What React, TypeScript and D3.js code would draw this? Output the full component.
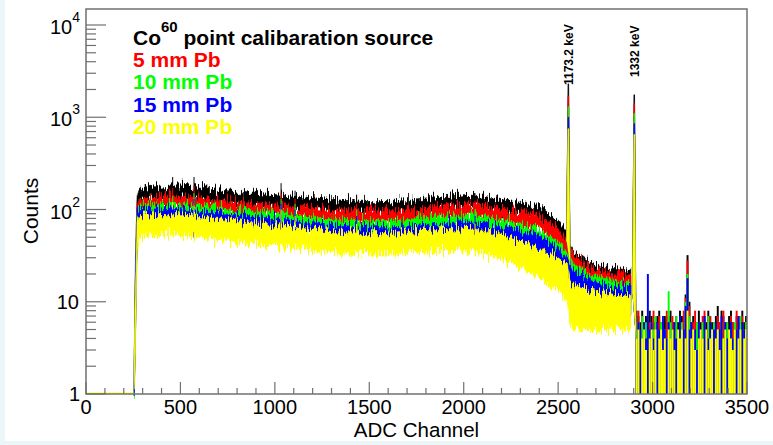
import React from "react";
import * as d3 from "d3";

const W = 773;
const H = 445;

// ---- axis tick values ----
const xMajorTicks = [0, 500, 1000, 1500, 2000, 2500, 3000, 3500];
const xMinorTicks = d3.range(0, 3501, 100);
const yDecades = [1, 10, 100, 1000, 10000];

// ---- series ----
const seriesNames = ["no Pb", "5 mm Pb", "10 mm Pb", "15 mm Pb", "20 mm Pb"];
const seriesColors = ["#000000", "#ff0000", "#00ff00", "#0000ff", "#ffff00"];
const legendTitle = "point calibaration source";

// continuum band knots (ADC channel)
const knots = [255, 262, 270, 280, 300, 350, 400, 450, 500, 600, 700, 800, 900, 1000, 1100, 1200, 1300, 1400, 1500, 1600, 1700, 1800, 1900, 2000, 2100, 2200, 2300, 2400, 2450, 2500, 2530, 2548, 2562, 2580, 2650, 2700, 2800, 2885];

// lower / upper edges of each noisy band (counts)
const blackLo = [1, 5, 60, 120, 125, 128, 130, 132, 130, 125, 118, 112, 108, 104, 98, 95, 92, 90, 88, 88, 90, 94, 100, 105, 102, 92, 85, 75, 62, 45, 38, 35, 22, 20, 16, 14, 13, 12];
const blackHi = [2, 30, 130, 170, 170, 175, 180, 185, 185, 175, 165, 155, 150, 145, 140, 135, 128, 125, 122, 122, 125, 130, 138, 145, 140, 128, 120, 110, 95, 75, 62, 55, 40, 36, 28, 25, 23, 22];
const redLo = [1, 5, 50, 95, 98, 100, 102, 103, 102, 98, 94, 89, 85, 82, 78, 75, 72, 71, 70, 70, 72, 75, 80, 84, 82, 74, 68, 60, 50, 37, 31, 28, 18, 16, 13, 12, 11, 10];
const redHi = [2, 25, 110, 130, 132, 135, 138, 140, 138, 133, 127, 121, 116, 112, 107, 103, 100, 98, 97, 97, 100, 104, 110, 117, 113, 102, 95, 86, 75, 60, 50, 45, 36, 32, 25, 22, 20, 19];
const greenLo = [1, 4, 45, 80, 82, 84, 85, 86, 85, 82, 78, 74, 70, 67, 63, 60, 58, 56, 55, 55, 57, 59, 62, 64, 62, 56, 50, 44, 37, 28, 24, 22, 15, 13, 11, 10, 9, 8];
const greenHi = [2, 22, 95, 110, 112, 114, 116, 117, 116, 112, 107, 101, 96, 92, 87, 83, 79, 77, 76, 76, 78, 81, 85, 88, 85, 77, 70, 62, 54, 44, 38, 35, 30, 27, 21, 19, 17, 16];
const blueLo = [1, 4, 40, 70, 72, 73, 74, 75, 74, 71, 68, 64, 60, 57, 54, 51, 49, 47, 46, 46, 47, 49, 51, 53, 51, 46, 41, 35, 30, 23, 20, 18, 13, 12, 10, 9, 8, 7];
const blueHi = [2, 20, 85, 100, 100, 101, 102, 103, 102, 98, 94, 89, 84, 80, 76, 72, 69, 66, 65, 65, 66, 69, 72, 74, 72, 65, 58, 51, 45, 37, 32, 29, 26, 23, 18, 16, 15, 14];
const yellowLo = [1, 3, 30, 50, 52, 53, 53, 54, 53, 50, 47, 45, 42, 40, 38, 36, 34, 33, 33, 33, 34, 35, 35, 35, 33, 29, 23, 18, 15, 13, 11, 10, 6, 5, 5, 5, 5, 5];
const yellowHi = [3, 15, 70, 85, 87, 88, 88, 89, 88, 84, 80, 76, 72, 69, 66, 62, 58, 56, 55, 55, 57, 59, 62, 63, 60, 54, 46, 39, 34, 30, 27, 25, 17, 16, 14, 13, 12, 12];

// photo peaks
const peakChannels = [2554, 2903];
const peakLabels = ["1173.2 keV", "1332 keV"];
const peakBaseLeft = [45, 12];
const peakBaseRight = [25, 4];
const blackPeaks = [2300, 1750];
const redPeaks = [1700, 1400];
const greenPeaks = [1300, 1100];
const bluePeaks = [1000, 850];
const yellowPeaks = [750, 650];

// narrow spikes in the continuum
const spikeChannels = [459, 572, 1033, 1107, 1433, 2060];
const spikeBottoms = [120, 50, 60, 70, 45, 45];
const blackSpikes = [225, 225, 193, 160, 145, 150];
const redSpikes = [170, 180, 150, 130, 115, 125];
const greenSpikes = [140, 150, 130, 115, 100, 100];
const blueSpikes = [120, 130, 115, 100, 85, 85];
const yellowSpikes = [100, 110, 100, 85, 70, 70];

// low-count tail above the 1332 keV peak, 10-channel bins from 2910
const tailStart = 2910;
const tailBin = 10;
const blackTail = [8, 7, 6, 8, 5, 7, 6, 8, 7, 5, 6, 7, 8, 6, 5, 7, 6, 7, 8, 5, 6, 7, 6, 8, 7, 5, 12, 32, 10, 6, 7, 5, 6, 8, 6, 5, 7, 6, 8, 7, 6, 5, 7, 9, 6, 8, 7, 5, 6, 7, 8, 6, 5, 7, 6, 7, 8, 6, 7];
const redTail = [6, 8, 5, 7, 6, 4, 7, 6, 5, 8, 6, 5, 7, 4, 6, 5, 8, 6, 5, 7, 4, 6, 5, 7, 6, 8, 11, 28, 9, 5, 6, 8, 5, 6, 4, 7, 8, 5, 6, 7, 5, 6, 4, 7, 6, 5, 8, 6, 4, 5, 7, 6, 5, 8, 6, 4, 7, 5, 6];
const greenTail = [5, 6, 4, 7, 3, 6, 5, 4, 6, 5, 7, 4, 5, 6, 3, 5, 4, 13, 6, 5, 3, 7, 4, 5, 6, 4, 10, 20, 7, 4, 5, 3, 6, 5, 4, 6, 5, 3, 7, 4, 5, 6, 4, 5, 3, 6, 4, 5, 6, 3, 5, 4, 6, 5, 3, 7, 4, 5, 6];
const blueTail = [4, 6, 5, 3, 6, 4, 20, 5, 6, 4, 3, 6, 5, 4, 7, 5, 4, 6, 3, 5, 6, 4, 5, 7, 4, 5, 9, 18, 5, 6, 4, 5, 3, 6, 5, 4, 7, 5, 4, 6, 3, 5, 6, 4, 5, 7, 3, 6, 4, 5, 6, 4, 3, 5, 7, 4, 6, 5, 4];
const yellowTail = [4, 5, 0, 4, 5, 3, 0, 4, 5, 3, 5, 0, 4, 5, 3, 4, 0, 5, 4, 5, 3, 0, 5, 4, 5, 0, 4, 8, 0, 4, 5, 3, 0, 4, 5, 4, 0, 5, 3, 4, 5, 0, 4, 5, 3, 0, 4, 5, 0, 5, 4, 3, 5, 0, 4, 5, 0, 4, 5];

const seriesLo = [blackLo, redLo, greenLo, blueLo, yellowLo];
const seriesHi = [blackHi, redHi, greenHi, blueHi, yellowHi];
const seriesPeaks = [blackPeaks, redPeaks, greenPeaks, bluePeaks, yellowPeaks];
const seriesSpikes = [blackSpikes, redSpikes, greenSpikes, blueSpikes, yellowSpikes];
const seriesTail = [blackTail, redTail, greenTail, blueTail, yellowTail];

const FONT = "'Liberation Sans', Arial, Helvetica, sans-serif";

const M = { left: 86, right: 747, top: 9, bottom: 394 };

export default function App() {
  const x = d3.scaleLinear().domain([0, 3500]).range([M.left, M.right]);
  const y = d3
    .scaleLog()
    .domain([1, Math.pow(10, (M.bottom - M.top) / 92.25)])
    .range([M.bottom, M.top]);

  const bandPath = (lo: number[], hi: number[]) =>
    d3
      .area<number>()
      .x((k) => x(k))
      .y0((_, i) => y(Math.max(1, lo[i])))
      .y1((_, i) => y(Math.max(1, hi[i])))(knots) || "";

  const peakPath = (heights: number[], p: number) => {
    const c = peakChannels[p];
    const pts: [number, number][] = [
      [c - 9, peakBaseLeft[p]],
      [c - 1.5, heights[p]],
      [c + 1.5, heights[p]],
      [c + 9, peakBaseRight[p]],
    ];
    return (
      d3
        .line<[number, number]>()
        .x((d) => x(d[0]))
        .y((d) => y(d[1]))(pts) || ""
    );
  };

  const minorY: number[] = [];
  for (let e = 0; e < 5; e++) {
    for (let m = 2; m <= 9; m++) {
      const v = m * Math.pow(10, e);
      if (y(v) >= M.top) minorY.push(v);
    }
  }

  const axisColor = "#707070";

  return (
    <svg
      width={W}
      height={H}
      style={{ position: "absolute", left: 0, top: 0 }}
      fontFamily={FONT}
    >
      <defs>
        {seriesColors.map((_, s) => (
          <filter
            key={"f" + s}
            id={"grain" + s}
            filterUnits="userSpaceOnUse"
            x={0}
            y={0}
            width={W}
            height={H}
          >
            <feTurbulence type="fractalNoise" baseFrequency="0.85 0.05" numOctaves={2} seed={s * 7 + 3} result="t" />
            <feColorMatrix
              in="t"
              type="matrix"
              values="0 0 0 0 0.5  0 1 0 0 0  0 0 0 0 0  0 0 0 0 1"
              result="d"
            />
            <feDisplacementMap in="SourceGraphic" in2="d" scale={22} xChannelSelector="R" yChannelSelector="G" />
          </filter>
        ))}
      </defs>
      <rect x={0} y={0} width={W} height={H} fill="#eaf6f8" />
      <rect x={5} y={0} width={W - 5} height={441} fill="#ffffff" />

      {/* zero-count baseline before threshold */}
      <line x1={x(0)} x2={x(255)} y1={y(1) - 0.7} y2={y(1) - 0.7} stroke="#ffff00" strokeWidth={1.5} />

      {seriesColors.map((col, s) => (
        <g key={seriesNames[s]}>
          <path
            d={bandPath(seriesLo[s], seriesHi[s])}
            fill={col}
            stroke={col}
            strokeWidth={0.6}
            filter={`url(#grain${s})`}
          />
          {spikeChannels.map((c, j) => (
            <line
              key={"sp" + j}
              x1={x(c)}
              x2={x(c)}
              y1={y(spikeBottoms[j])}
              y2={y(seriesSpikes[s][j])}
              stroke={col}
              strokeWidth={1}
            />
          ))}
          {peakChannels.map((c, p) => (
            <path key={"pk" + p} d={peakPath(seriesPeaks[s], p)} fill={col} stroke={col} strokeWidth={0.8} />
          ))}
          {seriesTail[s].map((v, i) =>
            v > 1 ? (
              <rect
                key={"t" + i}
                x={x(tailStart + i * tailBin)}
                width={x(tailStart + (i + 1) * tailBin) - x(tailStart + i * tailBin) + 0.05}
                y={y(v)}
                height={y(1) - y(v)}
                fill={col}
              />
            ) : null
          )}
        </g>
      ))}

      {/* frame */}
      <rect
        x={M.left}
        y={M.top}
        width={M.right - M.left}
        height={M.bottom - M.top}
        fill="none"
        stroke={axisColor}
        strokeWidth={1.5}
      />

      {/* x ticks */}
      {xMinorTicks.map((t) => (
        <line
          key={"xm" + t}
          x1={x(t)}
          x2={x(t)}
          y1={M.bottom}
          y2={M.bottom - (t % 500 === 0 ? 12 : 6)}
          stroke={axisColor}
          strokeWidth={1.2}
        />
      ))}
      {xMajorTicks.map((t) => (
        <text key={"xl" + t} x={x(t)} y={414} fontSize={20} textAnchor="middle" fill="#000">
          {String(t)}
        </text>
      ))}
      <text x={(M.left + M.right) / 2} y={437} fontSize={20.5} textAnchor="middle" fill="#000">
        ADC Channel
      </text>

      {/* y ticks */}
      {yDecades.map((v) => (
        <line key={"yM" + v} x1={M.left} x2={M.left + 20} y1={y(v)} y2={y(v)} stroke={axisColor} strokeWidth={1.2} />
      ))}
      {minorY.map((v) => (
        <line key={"ym" + v} x1={M.left} x2={M.left + 10} y1={y(v)} y2={y(v)} stroke={axisColor} strokeWidth={1.2} />
      ))}
      {yDecades.map((v, i) => {
        if (i === 0)
          return (
            <text key={"yl" + v} x={80} y={y(v) + 7} fontSize={20} textAnchor="end">
              1
            </text>
          );
        if (i === 1)
          return (
            <text key={"yl" + v} x={79} y={y(v) + 7} fontSize={20} textAnchor="end">
              10
            </text>
          );
        return (
          <text key={"yl" + v} x={80} y={y(v) + 9} fontSize={20} textAnchor="end">
            10
            <tspan dy={-12} fontSize={14}>
              {String(i)}
            </tspan>
          </text>
        );
      })}
      <text
        transform={`translate(38, 211) rotate(-90)`}
        fontSize={21}
        textAnchor="middle"
        fill="#000"
      >
        Counts
      </text>

      {/* legend */}
      <text x={133} y={45} fontSize={21} fontWeight="bold" fill="#000">
        Co
        <tspan dy={-13} fontSize={15}>
          60
        </tspan>
        <tspan dy={13}>{" " + legendTitle}</tspan>
      </text>
      {seriesNames.slice(1).map((n, i) => (
        <text key={n} x={133} y={67 + i * 22.4} fontSize={21} fontWeight="bold" fill={seriesColors[i + 1]}>
          {n}
        </text>
      ))}

      {/* peak labels */}
      {peakChannels.map((c, p) => (
        <text
          key={"pl" + p}
          transform={`translate(${x(c) + 4.5}, ${p === 0 ? 85 : 77}) rotate(-90)`}
          fontSize={12}
          fontWeight="bold"
          fill="#000"
        >
          {peakLabels[p]}
        </text>
      ))}
    </svg>
  );
}
